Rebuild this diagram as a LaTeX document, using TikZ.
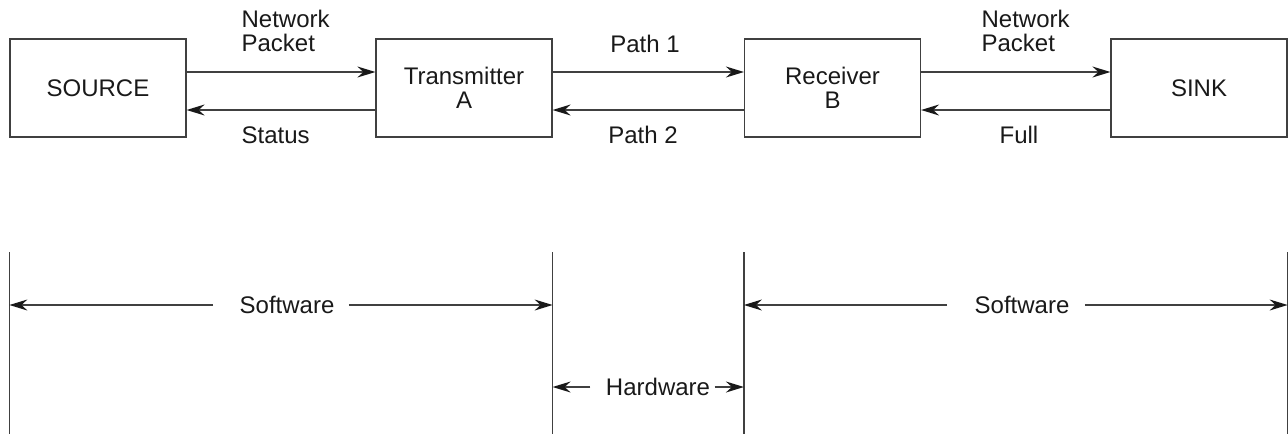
\documentclass[tikz,border=0pt]{standalone}
\usepackage{fontspec}
\setmainfont{Liberation Sans}
\usepackage{tikz}
\usetikzlibrary{arrows.meta,positioning}

\begin{document}
    \begin{tikzpicture}[x=0.5pt, y=-0.5pt, line width=0.6pt,
        font=\fontsize{12}{12}\selectfont, text=black!90,
        unit/.style={draw=black!75, minimum width=88pt, minimum height=49pt, align=center, inner sep=0pt},
        flow/.style={draw=black!75, -{Stealth[length=9pt,width=5.5pt,inset=3pt,color=black!90]}},
        lbl/.style={inner sep=0pt}]
        \useasboundingbox (0,0) rectangle (1288,434);
        \foreach \uname/\ux/\utext in {src/98/SOURCE, tx/464/{Transmitter\\A}, rx/832.5/{Receiver\\B}, sink/1199/SINK} {
            \node[unit] (\uname) at (\ux,88) {\utext};
        }
        \foreach \ua/\ub in {src/tx, tx/rx, rx/sink} {
            \draw[flow] (\ua.east |- 0,72) -- (\ub.west |- 0,72);
            \draw[flow] (\ub.west |- 0,110) -- (\ua.east |- 0,110);
        }
        \node[lbl, anchor=south west, align=left] (pkt-in) at (241,52) {Network\\Packet};
        \node[lbl, anchor=base] (path-1) at (645,52) {Path 1};
        \node[lbl, anchor=south west, align=left] (pkt-out) at (981,52) {Network\\Packet};
        \node[lbl, anchor=base west] (status) at (241,143) {Status};
        \node[lbl, anchor=base] (path-2) at (643,143) {Path 2};
        \node[lbl, anchor=base west] (full) at (999,143) {Full};

        \foreach \edge in {src.west, tx.east, rx.west, sink.east} {
            \draw[draw=black!75] (\edge |- 0,252) -- (\edge |- 0,434);
        }
        \node[lbl] (sw-left) at (287,305) {Software};
        \node[lbl] (hw) at (658,387) {Hardware};
        \node[lbl] (sw-right) at (1022,305) {Software};
        \draw[flow] ([xshift=-13pt]sw-left.west) -- (src.west |- sw-left);
        \draw[flow] ([xshift=7pt]sw-left.east) -- (tx.east |- sw-left);
        \draw[flow] ([xshift=-7.5pt]hw.west) -- (tx.east |- hw);
        \draw[flow] ([xshift=2pt]hw.east) -- (rx.west |- hw);
        \draw[flow] ([xshift=-13.5pt]sw-right.west) -- (rx.west |- sw-right);
        \draw[flow] ([xshift=7.5pt]sw-right.east) -- (sink.east |- sw-right);
    \end{tikzpicture}
\end{document}
